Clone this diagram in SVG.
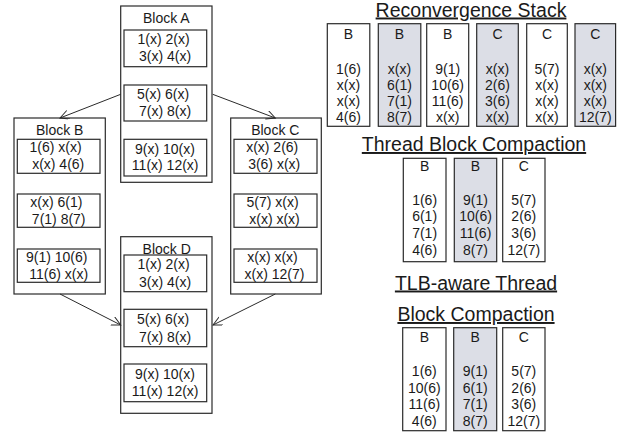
<svg xmlns="http://www.w3.org/2000/svg" width="625" height="434" viewBox="0 0 625 434">
<defs>
<style>
text{font-family:"Liberation Sans",Arial,Helvetica,sans-serif;fill:#1a1a1a;}
.t{font-size:14px;text-anchor:middle;}
.h{font-size:19.5px;text-anchor:middle;text-decoration:underline;}
.blk{fill:#fff;stroke:#2a2a2a;stroke-width:1.2;}
.in{fill:#fff;stroke:#2a2a2a;stroke-width:1.2;}
.col{fill:#fff;stroke:#2a2a2a;stroke-width:1.2;}
.sh{fill:#dcdee6;}
.edge{stroke:#2a2a2a;stroke-width:1;fill:none;marker-end:url(#arr);}
</style>
<marker id="arr" markerUnits="userSpaceOnUse" markerWidth="12" markerHeight="12" refX="9" refY="4.5" orient="auto" viewBox="0 0 12 12">
<path d="M0,0 L9,4.5 L0,9" fill="none" stroke="#2a2a2a" stroke-width="1"/>
</marker>
</defs>
<rect width="625" height="434" fill="#fff"/>

<g id="blockA">
<rect class="blk" x="120.7" y="6" width="91.3" height="176.3"/>
<text class="t" x="166.3" y="22.5">Block A</text>
<rect class="in" x="124" y="30" width="82.7" height="36.7"/>
<text class="t" x="163.5" y="43.7">1(x) 2(x)</text>
<text class="t" x="165" y="60.5">3(x) 4(x)</text>
<rect class="in" x="124" y="85" width="82.7" height="36"/>
<text class="t" x="163" y="98.7">5(x) 6(x)</text>
<text class="t" x="165" y="115.5">7(x) 8(x)</text>
<rect class="in" x="124" y="139.3" width="82.7" height="36.7"/>
<text class="t" x="165" y="153.5">9(x) 10(x)</text>
<text class="t" x="165.2" y="170.3">11(x) 12(x)</text>
</g>

<g id="blockB">
<rect class="blk" x="14" y="118" width="91.3" height="176"/>
<text class="t" x="59.7" y="134.5">Block B</text>
<rect class="in" x="17.3" y="139.3" width="82.7" height="34"/>
<text class="t" x="55.5" y="152.3">1(6) x(x)</text>
<text class="t" x="58.2" y="169">x(x) 4(6)</text>
<rect class="in" x="17.3" y="194" width="82.7" height="33.3"/>
<text class="t" x="56.3" y="207">x(x) 6(1)</text>
<text class="t" x="58.7" y="223.7">7(1) 8(7)</text>
<rect class="in" x="17.3" y="249" width="82.7" height="33.3"/>
<text class="t" x="56.7" y="262">9(1) 10(6)</text>
<text class="t" x="58.7" y="279">11(6) x(x)</text>
</g>

<g id="blockC">
<rect class="blk" x="230.7" y="118" width="90.6" height="176"/>
<text class="t" x="275.3" y="134.5">Block C</text>
<rect class="in" x="234" y="139.3" width="83" height="34"/>
<text class="t" x="272.2" y="152.3">x(x) 2(6)</text>
<text class="t" x="274.2" y="169">3(6) x(x)</text>
<rect class="in" x="234" y="194" width="83" height="33.3"/>
<text class="t" x="272.5" y="207">5(7) x(x)</text>
<text class="t" x="274.5" y="223.7">x(x) x(x)</text>
<rect class="in" x="234" y="249" width="83" height="33.3"/>
<text class="t" x="272.5" y="262">x(x) x(x)</text>
<text class="t" x="274.5" y="279">x(x) 12(7)</text>
</g>

<g id="blockD">
<rect class="blk" x="120.7" y="236.7" width="91.3" height="176.6"/>
<text class="t" x="166.7" y="254">Block D</text>
<rect class="in" x="124" y="255" width="82.7" height="36.7"/>
<text class="t" x="163.5" y="268.7">1(x) 2(x)</text>
<text class="t" x="165" y="286.5">3(x) 4(x)</text>
<rect class="in" x="124" y="309.3" width="82.7" height="37.4"/>
<text class="t" x="163" y="323.5">5(x) 6(x)</text>
<text class="t" x="165" y="341.5">7(x) 8(x)</text>
<rect class="in" x="124" y="364" width="82.7" height="37.7"/>
<text class="t" x="165" y="378.5">9(x) 10(x)</text>
<text class="t" x="165.2" y="396">11(x) 12(x)</text>
</g>

<g id="connectors">
<line class="edge" x1="120.7" y1="94.3" x2="60" y2="118"/>
<line class="edge" x1="212.7" y1="94.3" x2="275.3" y2="118"/>
<line class="edge" x1="60" y1="294" x2="120.7" y2="325"/>
<line class="edge" x1="275.3" y1="294" x2="213" y2="325"/>
</g>

<g id="reconvergenceStack">
<text class="h" x="471" y="16.5">Reconvergence Stack</text>
<g id="rs1"><rect class="col" x="327.3" y="23.7" width="42.5" height="102.6"/>
<text class="t" x="348.5" y="39.3">B</text>
<text class="t" x="348.5" y="73.7">1(6)</text><text class="t" x="348.5" y="89.8">x(x)</text><text class="t" x="348.5" y="105.9">x(x)</text><text class="t" x="348.5" y="122">4(6)</text></g>
<g id="rs2"><rect class="col sh" x="378.3" y="23.7" width="42.5" height="102.6"/>
<text class="t" x="399.5" y="39.3">B</text>
<text class="t" x="399.5" y="73.7">x(x)</text><text class="t" x="399.5" y="89.8">6(1)</text><text class="t" x="399.5" y="105.9">7(1)</text><text class="t" x="399.5" y="122">8(7)</text></g>
<g id="rs3"><rect class="col" x="426.7" y="23.7" width="42" height="102.6"/>
<text class="t" x="447.7" y="39.3">B</text>
<text class="t" x="447.7" y="73.7">9(1)</text><text class="t" x="447.7" y="89.8">10(6)</text><text class="t" x="447.7" y="105.9">11(6)</text><text class="t" x="447.7" y="122">x(x)</text></g>
<g id="rs4"><rect class="col sh" x="476.7" y="23.7" width="41.6" height="102.6"/>
<text class="t" x="497.5" y="39.3">C</text>
<text class="t" x="497.5" y="73.7">x(x)</text><text class="t" x="497.5" y="89.8">2(6)</text><text class="t" x="497.5" y="105.9">3(6)</text><text class="t" x="497.5" y="122">x(x)</text></g>
<g id="rs5"><rect class="col" x="526.7" y="23.7" width="40.6" height="102.6"/>
<text class="t" x="547" y="39.3">C</text>
<text class="t" x="547" y="73.7">5(7)</text><text class="t" x="547" y="89.8">x(x)</text><text class="t" x="547" y="105.9">x(x)</text><text class="t" x="547" y="122">x(x)</text></g>
<g id="rs6"><rect class="col sh" x="575" y="23.7" width="40.6" height="102.6"/>
<text class="t" x="595.3" y="39.3">C</text>
<text class="t" x="595.3" y="73.7">x(x)</text><text class="t" x="595.3" y="89.8">x(x)</text><text class="t" x="595.3" y="105.9">x(x)</text><text class="t" x="595.3" y="122">12(7)</text></g>
</g>

<g id="threadBlockCompaction">
<text class="h" x="474" y="151">Thread Block Compaction</text>
<g id="tbc1"><rect class="col" x="403.3" y="158.3" width="42.7" height="103.4"/>
<text class="t" x="424.6" y="170.7">B</text>
<text class="t" x="424.6" y="204.5">1(6)</text><text class="t" x="424.6" y="221.4">6(1)</text><text class="t" x="424.6" y="238.3">7(1)</text><text class="t" x="424.6" y="255.3">4(6)</text></g>
<g id="tbc2"><rect class="col sh" x="454.3" y="158.3" width="42.4" height="103.4"/>
<text class="t" x="475.5" y="170.7">B</text>
<text class="t" x="475.5" y="204.5">9(1)</text><text class="t" x="475.5" y="221.4">10(6)</text><text class="t" x="475.5" y="238.3">11(6)</text><text class="t" x="475.5" y="255.3">8(7)</text></g>
<g id="tbc3"><rect class="col" x="502.7" y="158.3" width="42.3" height="103.4"/>
<text class="t" x="523.8" y="170.7">C</text>
<text class="t" x="523.8" y="204.5">5(7)</text><text class="t" x="523.8" y="221.4">2(6)</text><text class="t" x="523.8" y="238.3">3(6)</text><text class="t" x="523.8" y="255.3">12(7)</text></g>
</g>

<g id="tlbAwareCompaction">
<text class="h" x="476" y="289.5">TLB-aware Thread</text>
<text class="h" x="476" y="321">Block Compaction</text>
<g id="tlb1"><rect class="col" x="402.7" y="327.7" width="43.3" height="103"/>
<text class="t" x="424.3" y="342.3">B</text>
<text class="t" x="424.3" y="376">1(6)</text><text class="t" x="424.3" y="392.7">10(6)</text><text class="t" x="424.3" y="409.3">11(6)</text><text class="t" x="424.3" y="426">4(6)</text></g>
<g id="tlb2"><rect class="col sh" x="453.7" y="327.7" width="43" height="103"/>
<text class="t" x="475.2" y="342.3">B</text>
<text class="t" x="475.2" y="376">9(1)</text><text class="t" x="475.2" y="392.7">6(1)</text><text class="t" x="475.2" y="409.3">7(1)</text><text class="t" x="475.2" y="426">8(7)</text></g>
<g id="tlb3"><rect class="col" x="502.7" y="327.7" width="42.3" height="103"/>
<text class="t" x="523.8" y="342.3">C</text>
<text class="t" x="523.8" y="376">5(7)</text><text class="t" x="523.8" y="392.7">2(6)</text><text class="t" x="523.8" y="409.3">3(6)</text><text class="t" x="523.8" y="426">12(7)</text></g>
</g>
</svg>
